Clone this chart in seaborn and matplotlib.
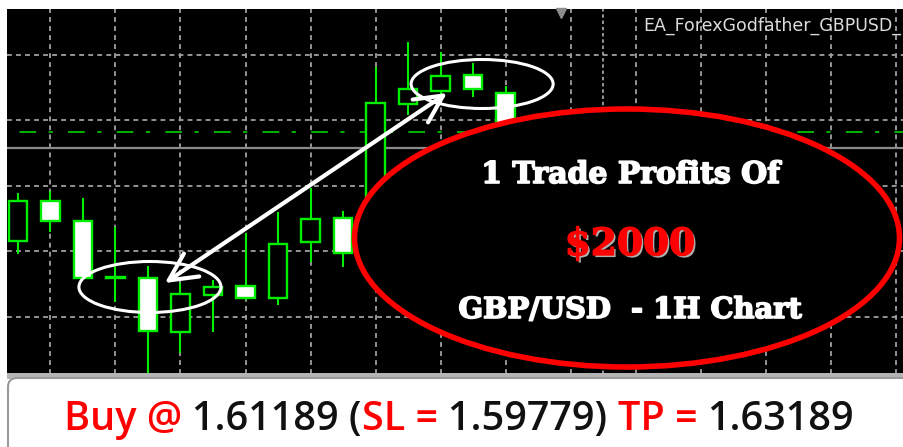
import numpy as np
import matplotlib
matplotlib.use("Agg")
import matplotlib.pyplot as plt
import matplotlib.patheffects as pe
from matplotlib.patches import Ellipse, FancyBboxPatch, FancyArrowPatch, Rectangle
import seaborn as sns

# GBP/USD 1H candles (one pip ~ one pixel)
opens  = [1.62099, 1.62499, 1.62299, 1.61739, 1.61729, 1.61189, 1.61559, 1.61649,
          1.61529, 1.62089, 1.62329, 1.62009, 1.63469, 1.63599, 1.63759, 1.63579]
highs  = [1.62579, 1.62599, 1.62529, 1.62239, 1.61849, 1.61679, 1.61709, 1.62179,
          1.62389, 1.62629, 1.62399, 1.63839, 1.64089, 1.63989, 1.63879, 1.63649]
lows   = [1.61969, 1.62189, 1.61709, 1.61489, 1.60779, 1.60979, 1.61189, 1.61509,
          1.61459, 1.61889, 1.61839, 1.61889, 1.63359, 1.63509, 1.63539, 1.63209]
closes = [1.62499, 1.62299, 1.61729, 1.61729, 1.61199, 1.61569, 1.61639, 1.61529,
          1.62069, 1.62319, 1.61979, 1.63479, 1.63619, 1.63749, 1.63619, 1.63259]

tp_line = 1.63189      # green dash-dot level
bid_line = 1.63029     # grey price line
separator_bar = 18     # period separator

buy_price = 1.61189
sl_price = 1.59779
tp_price = 1.63189
profit = 2000
pair = "GBP/USD"
ea_label = "EA_ForexGodfather_GBPUSD_"

GREEN = "#00ee00"
RED = "#ff0000"

sns.set_theme(style="dark")
plt.rcParams["lines.scale_dashes"] = False
plt.rcParams["font.family"] = ["DejaVu Sans"]

W, H = 904, 447
fig = plt.figure(figsize=(W / 100, H / 100), dpi=100)
fig.patch.set_facecolor("white")

# chart panel (pixels 7..904 x 9..374)
ax = fig.add_axes([7 / W, 1 - 374 / H, (W - 7) / W, (374 - 9) / H])
ax.set_facecolor("black")
for s in ax.spines.values():
    s.set_visible(False)

bars = np.arange(len(opens))
o = np.array(opens); c = np.array(closes)
hi = np.array(highs); lo = np.array(lows)
bull = c >= o
body_lo = np.minimum(o, c)
body_h = np.maximum(np.abs(c - o), 0.00008)

ax.set_xlim(-0.338, 27.26)
ax.set_ylim(1.60769, 1.64419)
ax.set_xticks(np.arange(1, 28, 2))
ax.set_yticks(1.61342 + 0.00655 * np.arange(5))
ax.tick_params(length=0, labelbottom=False, labelleft=False)
ax.grid(True, color="#a0a0a0", linestyle=(0, (3.5, 3)), linewidth=1.3)
ax.axvline(separator_bar, color="#a0a0a0", linestyle=(0, (2.5, 2)), linewidth=1.3)

ax.axhline(tp_line, color="#00b400", linewidth=1.4, linestyle=(26, (12, 9, 3, 11)), zorder=2)
ax.axhline(bid_line, color="#8a8a8a", linewidth=1.6, zorder=2)

ax.vlines(bars, lo, hi, color=GREEN, linewidth=1.5, zorder=3)
ax.bar(bars, body_h, bottom=body_lo, width=0.56,
       color=np.where(bull, "black", "white"), edgecolor=GREEN,
       linewidth=1.7, zorder=4)

# entry / exit highlight
ax.add_patch(Ellipse((4.06, 1.61639), 4.37, 0.0051, fill=False,
                     edgecolor="white", linewidth=2.2, zorder=6))
ax.add_patch(Ellipse((14.28, 1.63669), 4.37, 0.0049, fill=False,
                     edgecolor="white", linewidth=2.2, zorder=6))
ax.add_patch(FancyArrowPatch((4.52, 1.61679), (13.2, 1.63579),
                             arrowstyle="<->,head_length=1.1,head_width=0.55",
                             mutation_scale=18, color="white", linewidth=3,
                             shrinkA=0, shrinkB=0, zorder=6))

# overlay in pixel coordinates
ov = fig.add_axes([0, 0, 1, 1], zorder=5)
ov.set_xlim(0, W)
ov.set_ylim(H, 0)
ov.axis("off")
ov.patch.set_alpha(0)

ov.plot([561], [13], marker="v", color="#8c8c8c", markersize=7, linestyle="none")
ov.text(643, 31, ea_label, color="#dcdcdc", fontsize=12.5, family="DejaVu Sans",
        va="baseline", ha="left")

ov.add_patch(Ellipse((627, 238), 545, 258, facecolor="black", edgecolor=RED,
                     linewidth=4))

serif = dict(family="DejaVu Serif", weight="bold", ha="center", va="baseline")
bold_fx = [pe.withStroke(linewidth=1.2, foreground="white")]
ov.text(631, 183, "1 Trade Profits Of", color="white", fontsize=21.5,
        path_effects=bold_fx, **serif)
ov.text(630, 255, f"${profit}", color=RED, fontsize=27,
        path_effects=[pe.withSimplePatchShadow(offset=(1.5, -1.5),
                                               shadow_rgbFace="#b0b0b0", alpha=1),
                      pe.withStroke(linewidth=1.0, foreground=RED)], **serif)
ov.text(630, 318, f"{pair}  - 1H Chart", color="white", fontsize=20.8,
        path_effects=bold_fx, **serif)

# bottom banner
ov.add_patch(Rectangle((7, 373), W, 6, facecolor="#b4b4b4", edgecolor="none"))
ov.add_patch(FancyBboxPatch((8, 378), W + 20, 100,
                            boxstyle="round,pad=0,rounding_size=9",
                            facecolor="white", edgecolor="#9a9a9a", linewidth=1.5))

pieces = [("Buy @ ", RED), (f"{buy_price:.5f} (", "#111111"),
          ("SL = ", RED), (f"{sl_price:.5f}) ", "#111111"),
          ("TP = ", RED), (f"{tp_price:.5f}", "#111111")]
font = dict(family="Open Sans", weight="semibold", fontsize=25)
renderer = fig.canvas.get_renderer()


def px_width(s):
    t = ov.text(0, 0, s, **font)
    w = t.get_window_extent(renderer).width
    t.remove()
    return w


full = "".join(p for p, _ in pieces)
font["fontsize"] *= 792 / px_width(full)
total = px_width(full)
x0 = 459 - total / 2
prefix = ""
for txt, col in pieces:
    xoff = px_width(prefix + "x") - px_width("x") if prefix else 0
    ov.text(x0 + xoff, 430, txt, color=col, va="baseline", ha="left", **font)
    prefix += txt

fig.savefig("out.png", dpi=100, facecolor=fig.get_facecolor())
